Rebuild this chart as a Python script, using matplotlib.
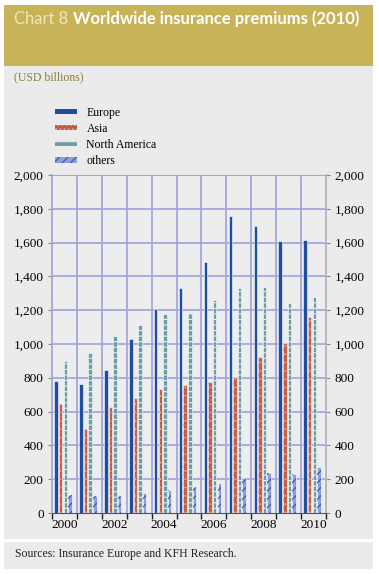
import numpy as np
import matplotlib
matplotlib.use("Agg")
import matplotlib.pyplot as plt
from matplotlib.patches import Rectangle
from matplotlib.ticker import FuncFormatter, FixedLocator

# ================= DATA =================
years = [2000, 2001, 2002, 2003, 2004, 2005, 2006, 2007, 2008, 2009, 2010]
europe = [780, 765, 845, 1030, 1205, 1330, 1485, 1755, 1700, 1610, 1615]
asia = [645, 500, 625, 680, 735, 760, 775, 805, 925, 1005, 1160]
north_america = [900, 945, 1050, 1110, 1175, 1185, 1260, 1330, 1340, 1245, 1280]
others = [108, 102, 98, 118, 138, 155, 178, 210, 236, 228, 272]

series_names = ["Europe", "Asia", "North America", "others"]
series_values = [europe, asia, north_america, others]

# ================= STYLE =================
gold = "#C7B459"
panel = "#EBEBEB"
grid_col = "#A4A7DD"
styles = {
    "Europe": dict(face="#1F4E9C", hatch=None, hcol=None),
    "Asia": dict(face="#C35A45", hatch="....", hcol="#E8A898"),
    "North America": dict(face="#6C9DA6", hatch="---", hcol="#E8F0F0"),
    "others": dict(face="#8E9EDB", hatch="////", hcol="#3A55A8"),
}
serif = "Liberation Serif"
plt.rcParams["hatch.linewidth"] = 0.8

fig = plt.figure(figsize=(3.79, 5.74), dpi=100)
W, H = 379, 574

def px_rect(x0, y0, x1, y1, color):
    fig.patches.append(Rectangle((x0 / W, 1 - y1 / H), (x1 - x0) / W, (y1 - y0) / H,
                                 transform=fig.transFigure, facecolor=color,
                                 edgecolor="none", zorder=-5))

# background panels
px_rect(4, 5, 373, 66, gold)
px_rect(4, 66, 373, 539, panel)
px_rect(4, 542, 373, 569, panel)

# title
t1 = fig.text(14 / W, 1 - 19 / H, "Chart 8", color="#EFE6BE", fontsize=12,
              family="Lato", fontweight="normal", va="center", ha="left")
renderer = fig.canvas.get_renderer()
bb = t1.get_window_extent(renderer)
fig.text((bb.x1 + 5) / W, 1 - 19 / H, "Worldwide insurance premiums (2010)", color="white",
         fontsize=12, family="Lato", fontweight="bold", va="center", ha="left")
fig.text(14 / W, 1 - 77 / H, "(USD billions)", color="#8C7E3E", fontsize=8.5,
         family=serif, va="center", ha="left")
fig.text(15 / W, 1 - 554 / H, "Sources: Insurance Europe and KFH Research.",
         color="#222222", fontsize=8.5, family=serif, va="center", ha="left")

# ================= AXES =================
ax = fig.add_axes([52 / W, 1 - 513 / H, (326 - 52) / W, (513 - 175) / H])
ax.set_zorder(2)
ax.set_facecolor("#EDEDED")
x = np.arange(len(years))
slot = 0.185
bw = 0.14
offsets = (np.arange(4) - 1.5) * slot - 0.06

for k, (name, vals) in enumerate(zip(series_names, series_values)):
    st = styles[name]
    ax.bar(x + offsets[k], vals, width=bw, color=st["face"], edgecolor="white",
           linewidth=0.4, zorder=3)
    if st["hatch"]:
        ax.bar(x + offsets[k], vals, width=bw, facecolor="none", edgecolor=st["hcol"],
               hatch=st["hatch"], linewidth=0, zorder=4)

ax.set_xlim(-0.5, len(years) - 0.5)
ax.set_ylim(0, 2000)

# grid
for yv in range(200, 2001, 200):
    ax.axhline(yv, color=grid_col, lw=1.3, zorder=1)
for xb in np.arange(0.5, len(years) - 0.5, 1):
    ax.axvline(xb, color=grid_col, lw=1.3, zorder=1)

ax.spines["top"].set_color(grid_col)
ax.spines["left"].set_color(grid_col)
ax.spines["left"].set_linewidth(1.3)
ax.spines["right"].set_color("#B5B5B5")
ax.spines["right"].set_linewidth(1.3)
ax.spines["bottom"].set_color("#555555")
ax.spines["bottom"].set_linewidth(0.8)

ax.set_xticks(x[::2])
ax.set_xticklabels([str(y) for y in years[::2]], fontsize=9.5, family=serif)
ax.tick_params(axis="x", which="major", length=0, pad=4)
ax.xaxis.set_minor_locator(FixedLocator(np.arange(-0.5, len(years), 1)))
ax.tick_params(axis="x", which="minor", length=4, width=1, color="#222222", direction="out")

yt = np.arange(0, 2001, 200)
ax.set_yticks(yt)
ax.yaxis.set_major_formatter(FuncFormatter(lambda v, p: f"{int(v):,}"))
ax.tick_params(axis="y", length=3, color="#888888", labelsize=9.5, pad=3,
               left=True, right=True, labelleft=True, labelright=True)
for lab in ax.get_yticklabels():
    lab.set_family(serif)

# legend
handles = []
for name in series_names:
    st = styles[name]
    handles.append(Rectangle((0, 0), 1, 1, facecolor=st["face"], edgecolor=st["hcol"] or st["face"],
                             hatch=st["hatch"], linewidth=0))
leg = fig.legend(handles, series_names, loc="upper left", bbox_to_anchor=(44 / W, 1 - 96 / H),
                 frameon=False, prop={"family": serif, "size": 8.5}, handlelength=1.9,
                 handleheight=0.35, labelspacing=0.35, handletextpad=0.8)

fig.savefig("out.png", dpi=100, facecolor="white")
